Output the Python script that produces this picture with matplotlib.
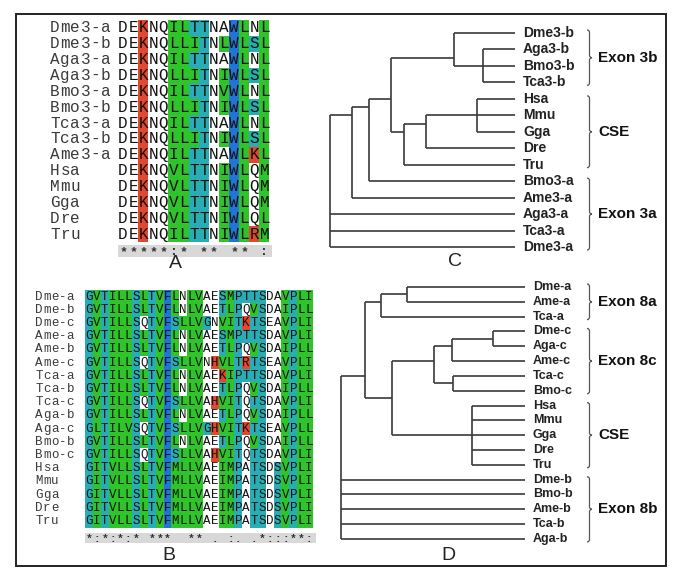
import matplotlib
matplotlib.use("Agg")
import matplotlib.pyplot as plt
from matplotlib.patches import Rectangle, PathPatch
from matplotlib.path import Path

# ---- panel A: exon 3 alignment ----
names_a = ["Dme3-a", "Dme3-b", "Aga3-a", "Aga3-b", "Bmo3-a", "Bmo3-b", "Tca3-a",
           "Tca3-b", "Ame3-a", "Hsa", "Mmu", "Gga", "Dre", "Tru"]
seqs_a = ["DEKNQILTTNAWLNL", "DEKNQLLITNLWLSL", "DEKNQILTTNAWLNL", "DEKNQLLITNIWLSL",
          "DEKNQILTTNVWLNL", "DEKNQLLITNIWLSL", "DEKNQILTTNAWLNL", "DEKNQLLITNIWLSL",
          "DEKNQILTTNAWLKL", "DEKNQVLTTNIWLQM", "DEKNQVLTTNIWLQM", "DEKNQVLTTNIWLQM",
          "DEKNQVLTTNIWLQL", "DEKNQILTTNIWLRM"]
cons_a = "*****:* ** ** :"

# ---- panel B: exon 8 alignment ----
names_b = ["Dme-a", "Dme-b", "Dme-c", "Ame-a", "Ame-b", "Ame-c", "Tca-a", "Tca-b", "Tca-c",
           "Aga-b", "Aga-c", "Bmo-b", "Bmo-c", "Hsa", "Mmu", "Gga", "Dre", "Tru"]
seqs_b = ["GVTILLSLTVFLNLVAESMPTTSDAVPLI", "GVTILLSLTVFLNLVAETLPQVSDAIPLL",
          "GVTILLSQTVFSLLVGNVITKTSEAVPLI", "GVTILLSLTVFLNLVAESMPTTSDAVPLI",
          "GVTILLSLTVFLNLVAETLPQVSDAIPLL", "GVTILLSQTVFSLLVNHVLTRTSEAVPLI",
          "GVTILLSLTVFLNLVAEKIPTTSDAVPLI", "GVTILLSLTVFLNLVAETLPQVSDAIPLL",
          "GVTILLSQTVFSLLVAHVITQTSDAVPLI", "GVTILLSLTVFLNLVAETLPQVSDAIPLL",
          "GLTILVSQTVFSLLVGHVITKTSEAVPLL", "GVTILLSLTVFLNLVAETLPQVSDAIPLL",
          "GVTILLSQTVFSLLVAHVITQTSDAVPLI", "GITVLLSLTVFMLLVAEIMPATSDSVPLI",
          "GITVLLSLTVFMLLVAEIMPATSDSVPLI", "GITVLLSLTVFMLLVAEIMPATSDSVPLI",
          "GITVLLSLTVFMLLVAEIMPATSDSVPLI", "GITVLLSLTVFMLLVAEIMPATSDSVPLI"]
cons_b = "*:*:*:* ***  ** . :. .*:::**:"

# ---- trees: (node height as fraction root->tips, children); leaves are names ----
tree_c = (0.0, [(0.119, [(0.211, [(0.330, [(0.670, ["Dme3-b", (0.827, ["Aga3-b", "Bmo3-b", "Tca3-b"])]),
                                           (0.400, [(0.519, [(0.795, ["Hsa", "Mmu", "Gga"]), "Dre"]), "Tru"])]),
                                  "Bmo3-a"]),
                         "Ame3-a"]),
                "Aga3-a", "Tca3-a", "Dme3-a"])
groups_c = [("Exon 3b", "Dme3-b", "Tca3-b"), ("CSE", "Hsa", "Tru"), ("Exon 3a", "Bmo3-a", "Dme3-a")]

tree_d = (0.0, [(0.130, [(0.217, [(0.359, ["Dme-a", "Ame-a"]), "Tca-a"]),
                         (0.277, [(0.505, [(0.603, [(0.826, ["Dme-c", "Aga-c"]), "Ame-c"]),
                                           (0.609, ["Tca-c", "Bmo-c"])]),
                                  (0.712, ["Hsa", "Mmu", "Gga", "Dre", "Tru"])])]),
                "Dme-b", "Bmo-b", "Ame-b", "Tca-b", "Aga-b"])
groups_d = [("Exon 8a", "Dme-a", "Tca-a"), ("Exon 8c", "Dme-c", "Bmo-c"),
            ("CSE", "Hsa", "Tru"), ("Exon 8b", "Dme-b", "Aga-b")]

GREEN, TEAL, BLUE, RED = "#2ec42a", "#27adb3", "#2473d8", "#e4472f"
MONO = "Liberation Mono"
SANS = "Liberation Sans"
LINE = "#3a3a3a"


def res_color(r):
    if r in "ILVM":
        return GREEN
    if r in "TSGP":
        return TEAL
    if r in "WF":
        return BLUE
    if r in "KRH":
        return RED
    return None


def put_chars(ax, x0, yc, s, cw, fs, color, weight="normal"):
    # one glyph per fixed-width cell
    for j, ch in enumerate(s):
        if ch != " ":
            ax.text(x0 + (j + 0.5) * cw, yc, ch, ha="center", va="center", family=MONO,
                    fontsize=fs, color=color, fontweight=weight)


def draw_alignment(ax, names, seqs, cons, xn, x0, y0, cw, rh, fs, cons_y, cons_h, cons_fs):
    for i, (nm, s) in enumerate(zip(names, seqs)):
        yc = y0 + (i + 0.5) * rh
        put_chars(ax, xn, yc, nm, cw, fs, "#3a3a3a")
        for j, r in enumerate(s):
            c = res_color(r)
            if c:
                ax.add_patch(Rectangle((x0 + j * cw, y0 + i * rh), cw, rh, facecolor=c,
                                       lw=0, antialiased=False))
        put_chars(ax, x0, yc, s, cw, fs, "#111111")
    n = len(seqs[0])
    ax.add_patch(Rectangle((x0, cons_y), n * cw + 3, cons_h, facecolor="#d8d8d8", lw=0))
    put_chars(ax, x0, cons_y + cons_h / 2 + 0.8, cons, cw, cons_fs, "#333333", "bold")


def layout(node, leaves):
    if isinstance(node, str):
        leaves.append(node)
        return
    for ch in node[1]:
        layout(ch, leaves)


def draw_tree(ax, tree, groups, xr, xt, ytop, dy, fs, brace_x, glabel_x):
    leaves = []
    layout(tree, leaves)
    ly = {nm: ytop + k * dy for k, nm in enumerate(leaves)}

    def rec(node):
        # returns (x, y, leaf ys)
        if isinstance(node, str):
            return xt, ly[node], [ly[node]]
        x = xr + node[0] * (xt - xr)
        kids = [rec(ch) for ch in node[1]]
        ys = [k[1] for k in kids]
        ax.plot([x, x], [min(ys), max(ys)], color=LINE, lw=1.2, solid_capstyle="butt")
        for kx, ky, _ in kids:
            ax.plot([x, kx], [ky, ky], color=LINE, lw=1.2, solid_capstyle="butt")
        allys = [v for k in kids for v in k[2]]
        return x, sum(allys) / len(allys), allys

    rec(tree)
    for nm, y in ly.items():
        ax.text(xt + 8, y, nm, ha="left", va="center", family=SANS, fontsize=fs,
                fontweight="bold", color="#222222")
    for lab, a, b in groups:
        y0, y1 = ly[a] - 3, ly[b] + 3
        draw_brace(ax, brace_x, y0, y1)
        ax.text(glabel_x, (y0 + y1) / 2, lab, ha="left", va="center", family=SANS,
                fontsize=11, fontweight="bold", color="#111111")


def draw_brace(ax, x, y0, y1, w=5):
    ym = (y0 + y1) / 2
    h = w / 2
    verts = [(x, y0), (x + h, y0), (x + h, y0 + h),
             (x + h, ym - h),
             (x + h, ym), (x + w, ym),
             (x + h, ym), (x + h, ym + h),
             (x + h, y1 - h),
             (x + h, y1), (x, y1)]
    codes = [Path.MOVETO, Path.CURVE3, Path.CURVE3, Path.LINETO, Path.CURVE3, Path.CURVE3,
             Path.CURVE3, Path.CURVE3, Path.LINETO, Path.CURVE3, Path.CURVE3]
    ax.add_patch(PathPatch(Path(verts, codes), facecolor="none", edgecolor="#555555", lw=0.9))


fig = plt.figure(figsize=(6.85, 5.8), dpi=100)
ax = fig.add_axes([0, 0, 1, 1])
ax.set_xlim(0, 685)
ax.set_ylim(580, 0)
ax.axis("off")

ax.add_patch(Rectangle((16, 14), 650, 552, facecolor="none", edgecolor="#222222", lw=1.4))

draw_alignment(ax, names_a, seqs_a, cons_a, 50, 118, 20, 10.1, 15.86, 11.5, 245, 12, 9.5)
draw_alignment(ax, names_b, seqs_b, cons_b, 35, 85, 290, 7.86, 13.2, 9, 533, 10, 8)

draw_tree(ax, tree_c, groups_c, 330, 515, 33, 16.46, 10, 587, 598)
draw_tree(ax, tree_d, groups_d, 341, 525, 287, 14.82, 9, 587, 598)

for lab, x, y in [("A", 175, 264), ("B", 169, 555), ("C", 455, 262), ("D", 448, 556)]:
    ax.text(x, y, lab, ha="center", va="center", family=SANS, fontsize=14, color="#222222")

fig.savefig("out.png", dpi=100)
